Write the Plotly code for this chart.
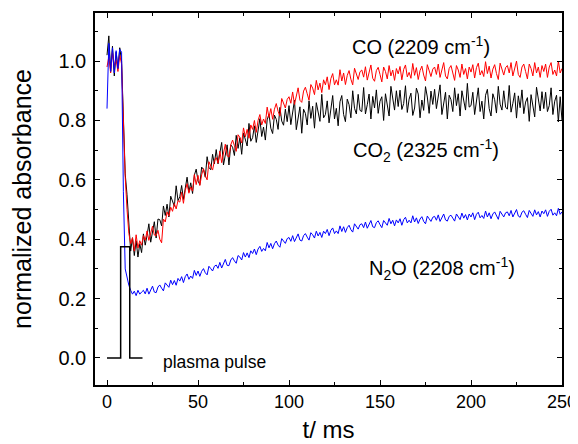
import plotly.graph_objects as go

# time axis (ms), 1 ms sampling
t_ms = list(range(0, 251))

# CO (2209 cm-1), normalized absorbance x1000
co_milli = [
    980, 1015, 960, 1030, 985, 1005, 965, 1020, 990, 800,
    610, 500, 420, 385, 405, 360, 415, 370, 395, 380,
    412, 396, 428, 396, 420, 444, 414, 412, 430, 400,
    388, 468, 458, 492, 478, 508, 494, 520, 502, 530,
    525, 558, 521, 564, 587, 555, 576, 562, 618, 584,
    615, 581, 617, 638, 614, 600, 661, 647, 633, 664,
    675, 656, 697, 658, 689, 720, 681, 677, 718, 734,
    715, 696, 752, 743, 724, 775, 745, 770, 740, 785,
    770, 800, 760, 800, 820, 785, 805, 790, 845, 810,
    840, 804, 838, 857, 831, 815, 874, 858, 842, 871,
    880, 858, 896, 854, 882, 910, 868, 861, 899, 912,
    890, 868, 921, 909, 887, 935, 903, 926, 894, 937,
    920, 947, 904, 941, 958, 920, 937, 919, 971, 933,
    960, 921, 952, 968, 939, 920, 976, 957, 938, 964,
    970, 946, 981, 936, 962, 987, 942, 932, 968, 979,
    955, 930, 980, 965, 940, 985, 950, 970, 935, 975,
    957, 982, 937, 972, 987, 947, 962, 942, 992, 952,
    978, 938, 968, 983, 953, 933, 988, 968, 948, 973,
    980, 955, 990, 945, 970, 995, 950, 940, 975, 985,
    960, 935, 985, 970, 945, 990, 955, 975, 940, 980,
    963, 988, 943, 978, 993, 953, 968, 948, 998, 958,
    983, 943, 973, 988, 958, 938, 993, 973, 953, 978,
    985, 960, 995, 950, 975, 1000, 955, 945, 980, 990,
    965, 940, 990, 975, 950, 995, 960, 980, 945, 985,
    965, 990, 945, 980, 995, 955, 970, 950, 1000, 960,
    975,
]

# CO2 (2325 cm-1), normalized absorbance x1000
co2_milli = [
    1020, 1085, 965, 1050, 950, 1030, 975, 1045, 1000, 820,
    620, 550, 440, 360, 405, 345, 395, 340, 385, 355,
    418, 380, 413, 452, 390, 426, 459, 404, 468, 466,
    445, 512, 480, 518, 475, 545, 526, 511, 580, 530,
    543, 581, 534, 578, 609, 559, 590, 554, 616, 636,
    596, 584, 643, 635, 609, 678, 642, 634, 686, 654,
    702, 654, 686, 726, 650, 686, 718, 650, 718, 710,
    682, 750, 706, 742, 686, 758, 734, 714, 790, 730,
    742, 782, 726, 774, 806, 746, 778, 734, 802, 822,
    774, 756, 818, 804, 770, 844, 798, 784, 838, 796,
    850, 786, 822, 868, 769, 810, 846, 757, 838, 824,
    785, 866, 807, 848, 774, 860, 826, 797, 888, 809,
    820, 866, 792, 848, 884, 805, 841, 782, 863, 884,
    820, 796, 872, 853, 809, 900, 841, 822, 888, 834,
    830, 911, 822, 853, 889, 805, 881, 842, 903, 824,
    865, 880, 800, 890, 855, 815, 915, 870, 835, 900,
    847, 902, 837, 857, 917, 827, 872, 892, 817, 842,
    909, 889, 809, 869, 834, 914, 879, 824, 899, 854,
    905, 840, 875, 920, 820, 860, 895, 805, 885, 870,
    830, 910, 850, 890, 815, 900, 865, 835, 925, 845,
    850, 895, 820, 875, 910, 830, 865, 805, 885, 905,
    840, 815, 890, 870, 825, 915, 855, 835, 900, 845,
    838, 918, 828, 858, 893, 808, 883, 843, 903, 823,
    862, 877, 797, 887, 852, 812, 912, 867, 832, 897,
    840, 895, 830, 850, 910, 820, 865, 885, 795, 880,
    800,
]

# N2O (2208 cm-1), normalized absorbance x1000
n2o_milli = [
    840, 1060, 965, 1045, 960, 1035, 975, 1040, 1030, 560,
    300, 270, 245, 228, 215, 225, 210, 228, 215, 222,
    228, 216, 235, 215, 229, 242, 222, 220, 239, 246,
    235, 226, 253, 247, 238, 262, 247, 261, 245, 268,
    259, 274, 254, 274, 283, 265, 276, 268, 295, 278,
    293, 275, 292, 301, 287, 280, 309, 301, 293, 309,
    313, 302, 322, 303, 318, 332, 312, 311, 330, 338,
    327, 319, 345, 340, 330, 355, 340, 354, 338, 361,
    352, 367, 348, 367, 376, 359, 369, 361, 389, 371,
    386, 368, 385, 394, 380, 373, 402, 394, 386, 402,
    406, 393, 412, 392, 406, 418, 397, 394, 412, 419,
    407, 397, 422, 415, 404, 427, 411, 423, 406, 427,
    419, 433, 412, 430, 438, 419, 428, 419, 445, 426,
    442, 423, 439, 447, 432, 424, 452, 443, 434, 449,
    452, 439, 458, 437, 451, 463, 442, 439, 456, 462,
    449, 439, 463, 456, 447, 470, 452, 464, 445, 465,
    455, 469, 447, 466, 474, 455, 464, 455, 479, 458,
    472, 453, 468, 476, 460, 452, 478, 469, 460, 474,
    477, 464, 482, 460, 473, 485, 465, 461, 477, 481,
    471, 461, 485, 477, 466, 488, 471, 483, 465, 485,
    475, 489, 466, 484, 491, 472, 480, 470, 495, 475,
    489, 469, 485, 492, 476, 467, 494, 484, 475, 489,
    492, 479, 497, 475, 488, 500, 478, 474, 491, 496,
    484, 473, 497, 489, 477, 499, 482, 493, 475, 495,
    486, 499, 477, 494, 501, 481, 489, 479, 504, 484,
    492,
]

# plasma pulse marker
pulse_t = [0, 7.5, 7.5, 12.5, 12.5, 19.5]
pulse_y = [0, 0, 0.375, 0.375, 0, 0]

co = [v / 1000 for v in co_milli]
co2 = [v / 1000 for v in co2_milli]
n2o = [v / 1000 for v in n2o_milli]

FONT = "Liberation Sans, Arial, sans-serif"

fig = go.Figure()
fig.add_trace(go.Scatter(x=t_ms, y=co2, mode="lines", line=dict(color="black", width=1), showlegend=False))
fig.add_trace(go.Scatter(x=t_ms, y=co, mode="lines", line=dict(color="red", width=1), showlegend=False))
fig.add_trace(go.Scatter(x=t_ms, y=n2o, mode="lines", line=dict(color="blue", width=1), showlegend=False))
fig.add_trace(go.Scatter(x=pulse_t, y=pulse_y, mode="lines", line=dict(color="black", width=1.5), showlegend=False))

ann_font = dict(family=FONT, size=20, color="black")
fig.add_annotation(x=172.5, y=1.052, text="CO (2209 cm<sup>-1</sup>)", showarrow=False, font=ann_font, xanchor="center", yanchor="middle")
fig.add_annotation(x=175, y=0.70, text="CO<sub>2</sub> (2325 cm<sup>-1</sup>)", showarrow=False, font=ann_font, xanchor="center", yanchor="middle")
fig.add_annotation(x=184, y=0.30, text="N<sub>2</sub>O (2208 cm<sup>-1</sup>)", showarrow=False, font=ann_font, xanchor="center", yanchor="middle")
fig.add_annotation(x=29.5, y=-0.015, text="plasma pulse", showarrow=False, font=dict(family=FONT, size=17.5, color="black"), xanchor="left", yanchor="middle")

axis_common = dict(
    showgrid=False, zeroline=False, showline=True, linecolor="black", linewidth=1.5,
    mirror="allticks", ticks="inside", ticklen=5, tickwidth=1, tickcolor="black",
    automargin=False,
)

fig.update_xaxes(
    **axis_common, range=[-6.6, 250], tick0=0, dtick=50,
    tickfont=dict(family=FONT, size=18, color="black"),
    minor=dict(ticks="inside", ticklen=3, dtick=25, tick0=0, tickcolor="black"),
    title=dict(text="t/ ms", font=dict(family=FONT, size=24, color="black"), standoff=10),
)
fig.update_yaxes(
    **axis_common, range=[-0.091, 1.162], tick0=0, dtick=0.2, tickformat=".1f",
    tickfont=dict(family=FONT, size=20, color="black"), ticklabelstandoff=3,
    minor=dict(ticks="inside", ticklen=3, dtick=0.1, tick0=0, tickcolor="black"),
    title=dict(text="normalized absorbance", font=dict(family=FONT, size=25, color="black"), standoff=20),
)

# the page body adds an 8 px offset; size the figure so the plot frame lands
# at the reference position inside the 578x444 window
fig.update_layout(
    width=570, height=436,
    margin=dict(l=87, r=16, t=5, b=59),
    paper_bgcolor="white", plot_bgcolor="white",
    font=dict(family=FONT, color="black"),
)

fig.write_html("out.html")
